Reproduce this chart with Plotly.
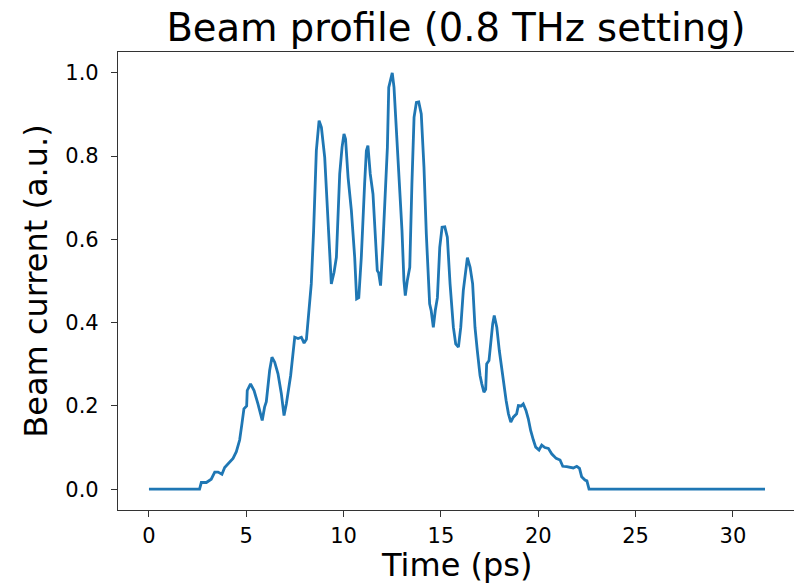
import plotly.graph_objects as go

time_ps = [0.0, 2.6, 2.69, 2.95, 3.2, 3.38, 3.55, 3.75, 3.89, 4.1, 4.32, 4.49, 4.66, 4.78, 4.88,
           5.02, 5.05, 5.22, 5.4, 5.6, 5.82, 5.94, 6.03, 6.2, 6.32, 6.46, 6.63, 6.8, 6.94, 7.06,
           7.28, 7.49, 7.66, 7.83, 7.97, 8.09, 8.2, 8.34, 8.46, 8.6, 8.74, 8.86, 9.03, 9.2, 9.37,
           9.51, 9.63, 9.8, 9.92, 10.02, 10.1, 10.23, 10.4, 10.57, 10.67, 10.78, 10.91, 11.08,
           11.17, 11.25, 11.37, 11.51, 11.63, 11.73, 11.8, 11.9, 12.02, 12.14, 12.25, 12.32,
           12.4, 12.5, 12.59, 12.71, 12.88, 13.0, 13.1, 13.17, 13.27, 13.4, 13.51, 13.62, 13.74,
           13.86, 13.99, 14.13, 14.25, 14.42, 14.5, 14.61, 14.71, 14.82, 14.94, 15.06, 15.2,
           15.33, 15.47, 15.64, 15.76, 15.9, 16.02, 16.15, 16.36, 16.5, 16.63, 16.75, 16.87,
           17.01, 17.1, 17.21, 17.3, 17.35, 17.47, 17.56, 17.66, 17.74, 17.87, 18.0, 18.18,
           18.35, 18.47, 18.59, 18.72, 18.89, 18.98, 19.12, 19.23, 19.37, 19.49, 19.61, 19.75,
           19.87, 20.04, 20.18, 20.34, 20.52, 20.69, 20.92, 21.12, 21.26, 21.46, 21.64, 21.8,
           21.98, 22.12, 22.23, 22.4, 22.5, 22.61, 31.65]

beam_current = [0.0, 0.0, 0.016, 0.016, 0.024, 0.041, 0.041, 0.036, 0.052, 0.062, 0.074, 0.09,
                0.118, 0.158, 0.193, 0.2, 0.237, 0.253, 0.237, 0.205, 0.165, 0.197, 0.21, 0.285,
                0.317, 0.305, 0.277, 0.23, 0.177, 0.205, 0.273, 0.365, 0.362, 0.365, 0.351, 0.36,
                0.413, 0.493, 0.621, 0.813, 0.885, 0.869, 0.797, 0.653, 0.493, 0.521, 0.557,
                0.757, 0.821, 0.853, 0.841, 0.749, 0.669, 0.557, 0.457, 0.46, 0.557, 0.733,
                0.813, 0.825, 0.757, 0.709, 0.613, 0.525, 0.52, 0.489, 0.589, 0.725, 0.821,
                0.965, 0.98, 1.0, 0.965, 0.869, 0.733, 0.621, 0.501, 0.465, 0.5, 0.533, 0.733,
                0.893, 0.929, 0.93, 0.901, 0.773, 0.613, 0.445, 0.429, 0.389, 0.429, 0.46, 0.581,
                0.629, 0.63, 0.605, 0.493, 0.389, 0.349, 0.341, 0.389, 0.477, 0.556, 0.533,
                0.493, 0.389, 0.333, 0.273, 0.253, 0.233, 0.24, 0.301, 0.309, 0.357, 0.397,
                0.417, 0.389, 0.333, 0.269, 0.213, 0.181, 0.161, 0.173, 0.181, 0.201, 0.2,
                0.205, 0.189, 0.169, 0.141, 0.118, 0.101, 0.094, 0.106, 0.1, 0.098, 0.085,
                0.074, 0.07, 0.055, 0.054, 0.053, 0.051, 0.055, 0.05, 0.03, 0.022, 0.02, 0.0, 0.0]

x_ticks = [0, 5, 10, 15, 20, 25, 30]
y_ticks = [0.0, 0.2, 0.4, 0.6, 0.8, 1.0]

FONT = "DejaVu Sans"
fig = go.Figure()
fig.add_trace(go.Scatter(x=time_ps, y=beam_current, mode="lines",
                         line=dict(color="#1f77b4", width=2.8), showlegend=False))

fig.update_layout(
    width=794, height=586,
    margin=dict(l=118, r=0, t=52, b=76),
    paper_bgcolor="white", plot_bgcolor="white",
    font=dict(family=FONT, color="black"),
    title=dict(text="Beam profile (0.8 THz setting)", x=0.5, xanchor="center",
               xref="paper", yref="container", y=0.93, yanchor="bottom",
               font=dict(size=38.5, family=FONT)),
    annotations=[dict(text="Time (ps)", xref="paper", yref="paper", x=0.5, y=0,
                      xanchor="center", yanchor="top", yshift=-34, showarrow=False,
                      font=dict(size=32, family=FONT, color="black"))],
)
fig.update_xaxes(range=[-1.59, 33.14], tickvals=x_ticks, ticktext=[str(v) for v in x_ticks],
                 showgrid=False, zeroline=False, showline=True, linecolor="#333", linewidth=1.2,
                 mirror=True, ticks="outside", ticklen=6, tickwidth=1.2, tickcolor="#333",
                 tickfont=dict(size=21, family=FONT), ticklabelstandoff=1)
fig.update_yaxes(range=[-0.05, 1.05], tickvals=y_ticks, ticktext=["%.1f" % v for v in y_ticks],
                 showgrid=False, zeroline=False, showline=True, linecolor="#333", linewidth=1.2,
                 mirror=False, ticks="outside", ticklen=6, tickwidth=1.2, tickcolor="#333",
                 tickfont=dict(size=21, family=FONT), ticklabelstandoff=8,
                 title=dict(text="Beam current (a.u.)", font=dict(size=32, family=FONT), standoff=8))

fig.write_html("out.html")
